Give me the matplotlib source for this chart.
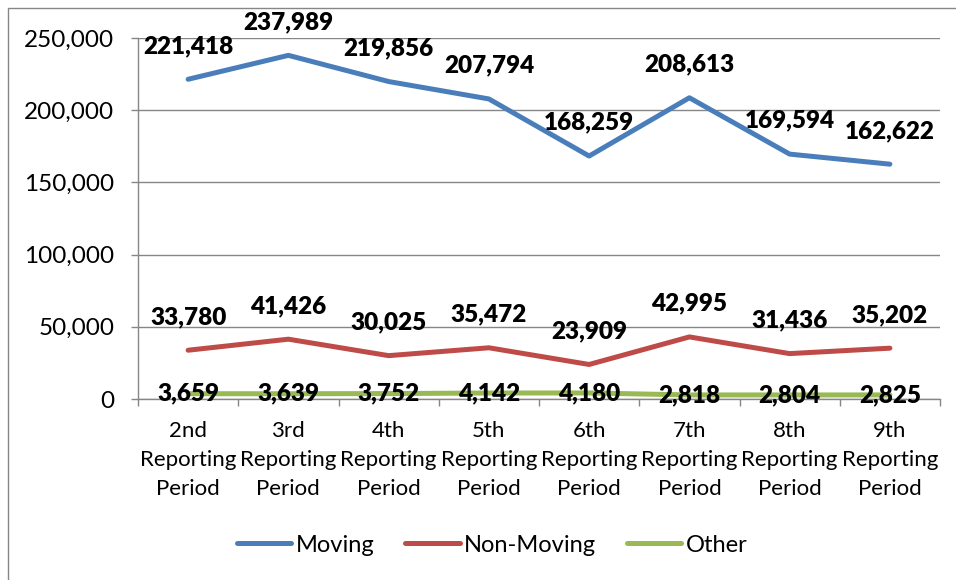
import matplotlib
matplotlib.use("Agg")
import matplotlib.pyplot as plt
from matplotlib.patches import Rectangle
from matplotlib.ticker import FuncFormatter, FixedLocator

plt.rcParams['font.family'] = ['Lato', 'DejaVu Sans']

categories = ["2nd\nReporting\nPeriod", "3rd\nReporting\nPeriod", "4th\nReporting\nPeriod",
              "5th\nReporting\nPeriod", "6th\nReporting\nPeriod", "7th\nReporting\nPeriod",
              "8th\nReporting\nPeriod", "9th\nReporting\nPeriod"]
moving = [221418, 237989, 219856, 207794, 168259, 208613, 169594, 162622]
non_moving = [33780, 41426, 30025, 35472, 23909, 42995, 31436, 35202]
other = [3659, 3639, 3752, 4142, 4180, 2818, 2804, 2825]
yticks = [0, 50000, 100000, 150000, 200000, 250000]

series = [("Moving", moving, "#4A7EBB", 24),
          ("Non-Moving", non_moving, "#BE4B48", 24),
          ("Other", other, "#98B954", 0)]

fig = plt.figure(figsize=(9.56, 5.80), dpi=100)
ax = fig.add_axes([138/956, 1-399/580, (940-138)/956, (399-38)/580])

x = list(range(len(categories)))
gray = "#868686"
for name, vals, col, off in series:
    ax.plot(x, vals, color=col, lw=3.6, solid_capstyle='round', solid_joinstyle='round', label=name, zorder=3)
    for xi, v in zip(x, vals):
        ax.annotate(f"{v:,}", (xi, v), xytext=(0, off), textcoords='offset points',
                    ha='center', va='center', fontsize=17.5, fontweight='heavy', color='black', zorder=5)

ax.set_xlim(-0.5, len(categories)-0.5)
ax.set_ylim(0, 250000)
ax.set_yticks(yticks)
ax.yaxis.set_major_formatter(FuncFormatter(lambda v, p: f"{int(v):,}"))
ax.grid(axis='y', color=gray, lw=1)
ax.set_axisbelow(True)
ax.set_xticks(x)
ax.set_xticklabels(categories, fontsize=16, linespacing=1.55)
ax.xaxis.set_minor_locator(FixedLocator([i - 0.5 for i in range(len(categories)+1)]))
ax.tick_params(axis='x', which='major', length=0, pad=16)
ax.tick_params(axis='x', which='minor', length=5, color=gray, width=1)
ax.tick_params(axis='y', length=5, color=gray, width=1, labelsize=17.5, pad=12)
for s in ['top', 'right']:
    ax.spines[s].set_visible(False)
for s in ['left', 'bottom']:
    ax.spines[s].set_color(gray)
    ax.spines[s].set_linewidth(1)

leg = fig.legend(loc='center', bbox_to_anchor=(0.515, 1-545/580), ncol=3, frameon=False,
                 fontsize=17, handlelength=2.3, handletextpad=0.2, columnspacing=1.3)

fig.patches.append(Rectangle((8/956, -0.05), 1.0, 1-8/580+0.05, transform=fig.transFigure,
                             fill=False, edgecolor=gray, lw=1))

fig.savefig("out.png", dpi=100)
